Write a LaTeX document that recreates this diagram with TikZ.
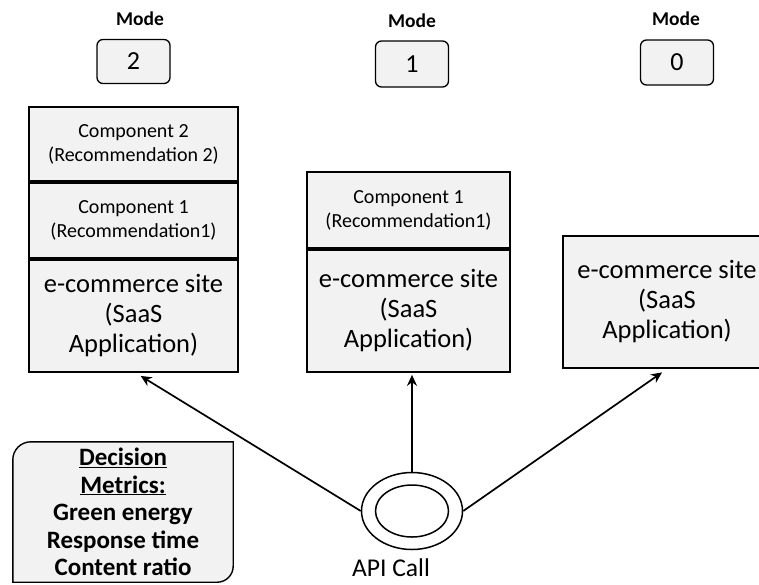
\documentclass[tikz,border=0pt]{standalone}
\usepackage{fontspec}
\setmainfont{Carlito}
\usetikzlibrary{arrows.meta,positioning,shapes.geometric,backgrounds}
\definecolor{boxgray}{HTML}{F2F2F2}
\tikzset{
  modelabel/.style={font=\fontsize{19.5}{22}\selectfont\bfseries, inner sep=0pt, anchor=base},
  modebox/.style={draw=black, line width=1.3pt, rounded corners=6pt, fill=boxgray, minimum width=73pt, minimum height=44pt, inner sep=0pt, font=\fontsize{26}{30}\selectfont},
  compbox/.style={draw=black, line width=1.9pt, fill=boxgray, align=center, inner sep=0pt, font=\fontsize{20}{24}\selectfont},
  appbox/.style={draw=black, line width=1.9pt, fill=boxgray, align=center, inner sep=0pt, font=\fontsize{26.5}{30}\selectfont},
  metrictext/.style={align=center, inner sep=0pt, minimum width=220pt, minimum height=140pt, font=\fontsize{25}{27.6}\selectfont\bfseries},
  ring/.style={draw=black, ellipse, line width=1.5pt, inner sep=0pt},
  flow/.style={-{Stealth[length=11pt, width=10pt]}, line width=1.7pt, draw=black}
}

\begin{document}
\begin{tikzpicture}[x=1pt, y=-1pt]
  \useasboundingbox (0,0) rectangle (759,584);
  \clip (0,0) rectangle (759,584);

  % mode labels and boxes
  \node[modelabel] (mlab2) at (140,25) {Mode};
  \node[modelabel] (mlab1) at (412,27) {Mode};
  \node[modelabel] (mlab0) at (676,25) {Mode};
  \node[modebox] (mode2) at (133.5,61.5) {2};
  \node[modebox, minimum height=46pt] (mode1) at (412,64) {1};
  \node[modebox, minimum height=45pt] (mode0) at (677,62.5) {0};

  % left stack: mode 2
  \node[compbox, minimum width=209pt, minimum height=74pt] (comp2b) at (133.5,144) {Component 2\\(Recommendation 2)};
  \node[compbox, minimum width=209pt, minimum height=75pt, below=0pt of comp2b] (comp2a) {Component 1\\(Recommendation1)};
  \node[appbox, minimum width=209pt, minimum height=112pt, below=0pt of comp2a] (app2) {e-commerce site\\(SaaS\\Application)};

  % middle stack: mode 1
  \node[compbox, minimum width=203pt, minimum height=76pt] (comp1a) at (408.5,210) {Component 1\\(Recommendation1)};
  \node[appbox, minimum width=203pt, minimum height=122pt, below=0pt of comp1a] (app1) {e-commerce site\\(SaaS\\Application)};

  % right: mode 0
  \node[appbox, minimum width=208pt, minimum height=132pt] (app0) at (667,302) {e-commerce site\\(SaaS\\Application)};

  % decision metrics
  \node[metrictext] (metrics) at (123,512) {\underline{Decision}\\\underline{Metrics:}\\Green energy\\Response time\\Content ratio};
  \begin{scope}[on background layer]
    \draw[line width=1.4pt, fill=boxgray] (metrics.south west) [rounded corners=18pt] -- (metrics.north west) [sharp corners] -- (metrics.north east) [rounded corners=16pt] -- (metrics.south east) [sharp corners] -- cycle;
  \end{scope}

  % API call
  \node[ring, minimum width=101pt, minimum height=77pt] (api) at (412,511) {};
  \node[ring, minimum width=73pt, minimum height=52pt] (apicore) at (api.center) {};
  \node[font=\fontsize{25.6}{30}\selectfont, inner sep=0pt, anchor=base] (apitext) at (391,576) {API Call};

  \draw[flow, shorten >=6pt] (api.west) -- ([xshift=2pt]app2.south);
  \draw[flow, shorten >=2pt] (api.north) -- (api.north |- app1.south);
  \draw[flow, shorten >=6pt] (api.east) -- (app0.south);
\end{tikzpicture}
\end{document}
